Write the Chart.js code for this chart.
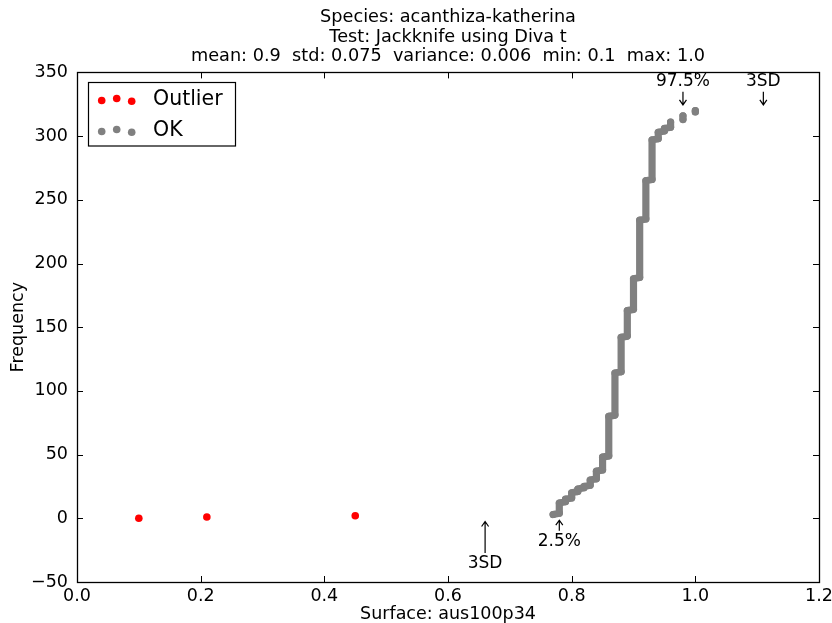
<!DOCTYPE html>
<html>
<head>
<meta charset="utf-8">
<script src="https://cdn.jsdelivr.net/npm/chart.js@4/dist/chart.umd.min.js"></script>
<style>
  html, body { margin: 0; padding: 0; background: #fff; }
  #wrap { width: 832px; height: 623px; }
</style>
</head>
<body>
<div id="wrap"><canvas id="chart" width="832" height="623"></canvas></div>
<script>
// outliers
const outlierX = [0.10, 0.21, 0.45];
const outlierY = [0, 1, 2];

// OK values: each surface value and the rank range it covers
const okX    = [0.77, 0.78, 0.79, 0.80, 0.81, 0.82, 0.83, 0.84, 0.85, 0.86, 0.87, 0.88, 0.89, 0.90, 0.91, 0.92, 0.93, 0.94, 0.95, 0.96, 0.98, 1.00];
const okFrom = [3, 4, 13, 16, 21, 24, 26, 31, 38, 49, 81, 115, 143, 164, 189, 235, 266, 298, 304, 307, 313, 319];
const okTo   = [3, 12, 15, 20, 23, 25, 30, 37, 48, 80, 114, 142, 163, 188, 234, 265, 297, 303, 306, 311, 316, 320];

const titleLines = [
  'Species: acanthiza-katherina',
  'Test: Jackknife using Diva t',
  'mean: 0.9  std: 0.075  variance: 0.006  min: 0.1  max: 1.0'
];
const xTitle = 'Surface: aus100p34';
const yTitle = 'Frequency';

const markers = [
  { label: '3SD', x: 0.66, tipY: -2.5, textY: -35.5 },
  { label: '2.5%', x: 0.78, tipY: -1.5, textY: -18 },
  { label: '97.5%', x: 0.98, tipY: 324.5, textY: 343 },
  { label: '3SD', x: 1.11, tipY: 324.5, textY: 343 }
];

const FONT = 'DejaVu Sans';

function buildOkPoints() {
  const pts = [];
  okX.forEach((x, i) => {
    if (i > 0 && x - okX[i - 1] > 0.015) pts.push({ x, y: null });
    pts.push({ x, y: okFrom[i] });
    if (okTo[i] !== okFrom[i]) pts.push({ x, y: okTo[i] });
  });
  return pts;
}

const framePlugin = {
  id: 'frame',
  afterDraw(chart) {
    const { ctx, chartArea: a, scales: { x, y } } = chart;
    ctx.save();
    ctx.strokeStyle = '#000';
    ctx.lineWidth = 1;
    ctx.beginPath();
    x.ticks.forEach(t => {
      const px = Math.round(x.getPixelForValue(t.value)) + 0.5;
      ctx.moveTo(px, a.bottom); ctx.lineTo(px, a.bottom - 6);
      ctx.moveTo(px, a.top); ctx.lineTo(px, a.top + 6);
    });
    y.ticks.forEach(t => {
      const py = Math.round(y.getPixelForValue(t.value)) + 0.5;
      ctx.moveTo(a.left, py); ctx.lineTo(a.left + 6, py);
      ctx.moveTo(a.right, py); ctx.lineTo(a.right - 6, py);
    });
    ctx.stroke();
    ctx.lineWidth = 1.3;
    ctx.strokeRect(Math.round(a.left) + 0.5, Math.round(a.top) + 0.5, Math.round(a.width), Math.round(a.height));

    // annotations with arrows
    ctx.fillStyle = '#000';
    ctx.font = `17px "${FONT}"`;
    ctx.textAlign = 'center';
    ctx.textBaseline = 'middle';
    ctx.lineWidth = 1.2;
    markers.forEach(m => {
      const px = x.getPixelForValue(m.x);
      const ty = y.getPixelForValue(m.textY);
      const tip = y.getPixelForValue(m.tipY);
      ctx.fillText(m.label, px, ty);
      const dir = tip > ty ? 1 : -1;
      const tail = ty + dir * 10.5;
      ctx.beginPath();
      ctx.moveTo(px, tail); ctx.lineTo(px, tip);
      ctx.moveTo(px - 3.5, tip - dir * 5); ctx.lineTo(px, tip); ctx.lineTo(px + 3.5, tip - dir * 5);
      ctx.stroke();
    });

    // legend box
    const box = { left: 88.5, top: 82.5, w: 147, h: 63.5 };
    ctx.fillStyle = '#fff';
    ctx.fillRect(box.left, box.top, box.w, box.h);
    ctx.lineWidth = 1.2;
    ctx.strokeRect(box.left, box.top, box.w, box.h);
    const offs = [1, -1, 1.8];
    ctx.textAlign = 'left';
    ctx.font = `20.5px "${FONT}"`;
    chart.data.datasets.forEach((ds, i) => {
      const cy = 100 + i * 31;
      ctx.fillStyle = ds.pointBackgroundColor;
      [101.7, 116.7, 131.7].forEach((cx, k) => {
        ctx.beginPath();
        ctx.arc(cx, cy + offs[k] - 0.5, 3.8, 0, Math.PI * 2);
        ctx.fill();
      });
      ctx.fillStyle = '#000';
      ctx.fillText(ds.label, 153, cy);
    });
    ctx.restore();
  }
};

Chart.defaults.color = '#000';
Chart.defaults.font.family = FONT;

new Chart(document.getElementById('chart'), {
  type: 'scatter',
  data: {
    datasets: [
      {
        label: 'Outlier',
        data: outlierX.map((x, i) => ({ x, y: outlierY[i] })),
        pointBackgroundColor: '#ff0000',
        pointBorderWidth: 0,
        pointRadius: 3.8,
        showLine: false
      },
      {
        label: 'OK',
        data: buildOkPoints(),
        pointBackgroundColor: '#808080',
        pointBorderWidth: 0,
        pointRadius: 3.6,
        borderColor: '#808080',
        borderWidth: 7.2,
        borderCapStyle: 'round',
        borderJoinStyle: 'round',
        showLine: true,
        spanGaps: false
      }
    ]
  },
  options: {
    responsive: false,
    animation: false,
    layout: { padding: { left: 0, right: 13, top: 0, bottom: 0 } },
    plugins: {
      legend: { display: false },
      tooltip: { enabled: false },
      title: {
        display: true,
        fullSize: false,
        text: titleLines,
        color: '#000',
        font: { family: FONT, size: 17.7, weight: 'normal', lineHeight: 1.1 },
        padding: { top: 8, bottom: 6 }
      }
    },
    scales: {
      x: {
        type: 'linear',
        min: 0,
        max: 1.2,
        grid: { display: false, drawTicks: false },
        border: { display: false },
        ticks: {
          stepSize: 0.2,
          padding: 4,
          maxRotation: 0,
          font: { family: FONT, size: 17.5 },
          callback: v => v.toFixed(1)
        },
        title: { display: true, text: xTitle, font: { family: FONT, size: 17.5, lineHeight: 1 }, padding: { top: 0, bottom: 0 } },
        afterFit: s => { s.height = 41; s.paddingLeft = 0; s.paddingRight = 0; }
      },
      y: {
        type: 'linear',
        min: -50,
        max: 350,
        grid: { display: false, drawTicks: false },
        border: { display: false },
        ticks: {
          stepSize: 50,
          padding: 9,
          font: { family: FONT, size: 17.5 },
          callback: v => (v < 0 ? '\u2212' + Math.abs(v) : String(v))
        },
        title: { display: true, text: yTitle, font: { family: FONT, size: 17.5, lineHeight: 1 }, padding: { top: 9.5, bottom: 0 } },
        afterFit: s => { s.width = 77; s.paddingTop = 0; s.paddingBottom = 0; }
      }
    }
  },
  plugins: [framePlugin]
});
</script>
</body>
</html>
